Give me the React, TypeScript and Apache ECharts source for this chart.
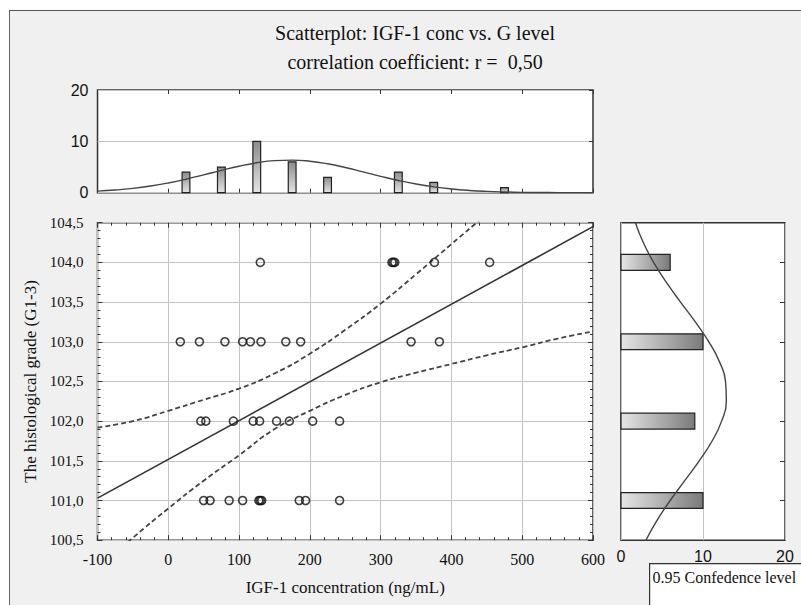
import React, { useEffect, useRef } from "react";
import * as echarts from "echarts";

// ---- data ----
// IGF-1 concentration (ng/mL) of each case, grouped by histological grade level
const gradeLevels = [101, 102, 103, 104];
const igfAtLevel101 = [50, 59, 86, 105, 128, 130, 132, 185, 194, 242];
const igfAtLevel102 = [46, 53, 92, 120, 129, 153, 171, 204, 242];
const igfAtLevel103 = [17, 44, 80, 105, 116, 131, 166, 187, 343, 383];
const igfAtLevel104 = [130, 316, 318, 320, 376, 454];

// top histogram (IGF-1 concentration, bins of 50)
const histCenters = [25, 75, 125, 175, 225, 325, 375, 475];
const histCounts = [4, 5, 10, 6, 3, 4, 2, 1];

// right histogram (grade)
const gradeCounts = [10, 9, 10, 6];

// fitted normal curve over the top histogram
const topCurveX = [-100, -75, -50, -25, 0, 25, 50, 75, 100, 125, 150, 175, 200, 225, 250, 275, 300, 325, 350, 375, 400, 425, 450, 475, 500, 525, 550, 575, 600];
const topCurveY = [0.31, 0.52, 0.84, 1.3, 1.9, 2.63, 3.47, 4.34, 5.16, 5.82, 6.24, 6.35, 6.13, 5.63, 4.91, 4.06, 3.19, 2.38, 1.69, 1.14, 0.73, 0.44, 0.25, 0.14, 0.07, 0.04, 0.02, 0.01, 0.0];

// fitted normal curve over the right histogram
const rightCurveGrade = [100.5, 100.75, 101.0, 101.25, 101.5, 101.75, 102.0, 102.25, 102.5, 102.75, 103.0, 103.25, 103.5, 103.75, 104.0, 104.25, 104.5];
const rightCurveCount = [3.04, 4.39, 6.0, 7.77, 9.54, 11.11, 12.27, 12.85, 12.75, 12.0, 10.71, 9.06, 7.26, 5.52, 3.98, 2.72, 1.76];

// regression line and 0.95 confidence band
const fitX = [-100, 600];
const fitY = [101.03, 104.45];
const bandX = [-100, -50, 0, 50, 100, 150, 200, 250, 300, 350, 400, 450, 500, 550, 600];
const bandUpper = [101.92, 102.0, 102.13, 102.27, 102.41, 102.6, 102.85, 103.15, 103.48, 103.85, 104.23, 104.61, 104.99, 105.38, 105.76];
const bandLower = [100.14, 100.53, 100.9, 101.25, 101.57, 101.9, 102.13, 102.33, 102.49, 102.61, 102.72, 102.83, 102.93, 103.04, 103.13];

const titleLines = ["Scatterplot: IGF-1 conc vs. G level", "correlation coefficient: r =  0,50"];
const xAxisTitle = "IGF-1 concentration (ng/mL)";
const yAxisTitle = "The histological grade (G1-3)";
const legendText = "0.95 Confedence level";

const SERIF = "Liberation Serif";
const SANS = "Liberation Sans";
const FRAME = "#333";
const GRIDLINE = "#c4c4c4";

export default function App() {
  const ref = useRef<HTMLDivElement>(null);

  useEffect(() => {
    if (!ref.current) return;
    const chart = echarts.init(ref.current, undefined, { renderer: "svg" });

    const igfRows = [igfAtLevel101, igfAtLevel102, igfAtLevel103, igfAtLevel104];
    const points: number[][] = [];
    igfRows.forEach((row, i) => row.forEach((x) => points.push([x, gradeLevels[i]])));

    const BAR_HALF_X = 5.5;
    const BAR_HALF_Y = 0.1;

    const noLine = { show: false, onZero: false };
    const hiddenAxisBase = {
      axisLabel: { show: false },
      splitLine: { show: false },
      axisLine: noLine,
    };

    const option: any = {
      animation: false,
      backgroundColor: "transparent",
      title: {
        text: titleLines.join("\n"),
        left: 410,
        top: 13,
        textAlign: "center",
        textStyle: { fontFamily: SERIF, fontSize: 20, fontWeight: "normal", color: "#111", lineHeight: 29 },
      },
      grid: [
        { left: 97.5, top: 90, width: 495.5, height: 102.7, show: true, z: -1, backgroundColor: "#fff", borderColor: FRAME, borderWidth: 1.5 },
        { left: 97.5, top: 222.7, width: 495.5, height: 317.5, show: true, z: -1, backgroundColor: "#fff", borderColor: FRAME, borderWidth: 1.5 },
        { left: 621, top: 222.7, width: 164, height: 317.5, show: true, z: -1, backgroundColor: "#fff", borderColor: FRAME, borderWidth: 1.5 },
      ],
      xAxis: [
        // 0: top histogram bottom
        { gridIndex: 0, type: "value", min: -100, max: 600, interval: 100, position: "bottom", ...hiddenAxisBase,
          axisTick: { show: true, inside: true, length: 4, lineStyle: { color: FRAME } } },
        // 1: top histogram top
        { gridIndex: 0, type: "value", min: -100, max: 600, interval: 100, position: "top", ...hiddenAxisBase,
          axisTick: { show: true, inside: true, length: 4, lineStyle: { color: FRAME } } },
        // 2: main bottom
        { gridIndex: 1, type: "value", min: -100, max: 600, interval: 100, position: "bottom",
          name: xAxisTitle, nameLocation: "middle", nameGap: 39,
          nameTextStyle: { fontFamily: SERIF, fontSize: 17, color: "#111" },
          axisLine: noLine,
          axisLabel: { fontFamily: SERIF, fontSize: 16, color: "#111", margin: 11 },
          axisTick: { show: true, inside: true, length: 5, lineStyle: { color: FRAME } },
          minorTick: { show: true, splitNumber: 5, length: 3, lineStyle: { color: FRAME } },
          splitLine: { show: true, lineStyle: { color: GRIDLINE, width: 1 } } },
        // 3: main top
        { gridIndex: 1, type: "value", min: -100, max: 600, interval: 100, position: "top", ...hiddenAxisBase,
          axisTick: { show: true, inside: true, length: 5, lineStyle: { color: FRAME } },
          minorTick: { show: true, splitNumber: 5, length: 3, lineStyle: { color: FRAME } } },
        // 4: right histogram bottom
        { gridIndex: 2, type: "value", min: 0, max: 20, interval: 10, position: "bottom",
          axisLine: noLine,
          axisLabel: { fontFamily: SANS, fontSize: 16, color: "#111", margin: 8 },
          axisTick: { show: false },
          splitLine: { show: true, lineStyle: { color: GRIDLINE, width: 1 } } },
      ],
      yAxis: [
        // 0: top histogram left
        { gridIndex: 0, type: "value", min: 0, max: 20, interval: 10, position: "left",
          axisLine: noLine,
          axisLabel: { fontFamily: SANS, fontSize: 16, color: "#111", margin: 9 },
          axisTick: { show: false },
          splitLine: { show: true, lineStyle: { color: GRIDLINE, width: 1 } } },
        // 1: top histogram right
        { gridIndex: 0, type: "value", min: 0, max: 20, interval: 10, position: "right", ...hiddenAxisBase,
          axisTick: { show: true, inside: true, length: 4, lineStyle: { color: FRAME } } },
        // 2: main left
        { gridIndex: 1, type: "value", min: 100.5, max: 104.5, interval: 0.5, position: "left",
          name: yAxisTitle, nameLocation: "middle", nameGap: 57, nameRotate: 90,
          nameTextStyle: { fontFamily: SERIF, fontSize: 17, color: "#111" },
          axisLine: noLine,
          axisLabel: { fontFamily: SERIF, fontSize: 15, color: "#111", margin: 14,
            formatter: (v: number) => v.toFixed(1).replace(".", ",") },
          axisTick: { show: true, inside: true, length: 5, lineStyle: { color: FRAME } },
          minorTick: { show: true, splitNumber: 5, length: 3, lineStyle: { color: FRAME } },
          splitLine: { show: true, lineStyle: { color: GRIDLINE, width: 1 } } },
        // 3: main right
        { gridIndex: 1, type: "value", min: 100.5, max: 104.5, interval: 0.5, position: "right", ...hiddenAxisBase,
          axisTick: { show: true, inside: true, length: 5, lineStyle: { color: FRAME } },
          minorTick: { show: true, splitNumber: 5, length: 3, lineStyle: { color: FRAME } } },
        // 4: right histogram left
        { gridIndex: 2, type: "value", min: 100.5, max: 104.5, interval: 0.5, position: "left", ...hiddenAxisBase,
          axisTick: { show: false } },
        // 5: right histogram right
        { gridIndex: 2, type: "value", min: 100.5, max: 104.5, interval: 0.5, position: "right", ...hiddenAxisBase,
          axisTick: { show: true, inside: true, length: 5, lineStyle: { color: FRAME } } },
      ],
      series: [
        {
          type: "custom",
          xAxisIndex: 0,
          yAxisIndex: 0,
          data: histCenters.map((c, i) => [c, histCounts[i]]),
          encode: { x: 0, y: 1 },
          renderItem: (params: any, api: any) => {
            const c = api.value(0);
            const v = api.value(1);
            const a = api.coord([c - BAR_HALF_X, v]);
            const b = api.coord([c + BAR_HALF_X, 0]);
            return {
              type: "rect",
              shape: { x: a[0], y: a[1], width: b[0] - a[0], height: b[1] - a[1] },
              style: {
                fill: new echarts.graphic.LinearGradient(0, 0, 0, 1, [
                  { offset: 0, color: "#8c8c8c" },
                  { offset: 1, color: "#e4e4e4" },
                ]),
                stroke: "#222",
                lineWidth: 1.2,
              },
            };
          },
          z: 3,
        },
        {
          type: "line",
          xAxisIndex: 0,
          yAxisIndex: 0,
          data: topCurveX.map((x, i) => [x, topCurveY[i]]),
          smooth: true,
          showSymbol: false,
          lineStyle: { color: "#444", width: 1.4 },
          z: 4,
        },
        {
          type: "line",
          xAxisIndex: 2,
          yAxisIndex: 2,
          data: bandX.map((x, i) => [x, bandUpper[i]]),
          smooth: true,
          showSymbol: false,
          clip: true,
          lineStyle: { color: "#444", width: 1.8, type: [5, 3] },
        },
        {
          type: "line",
          xAxisIndex: 2,
          yAxisIndex: 2,
          data: bandX.map((x, i) => [x, bandLower[i]]),
          smooth: true,
          showSymbol: false,
          clip: true,
          lineStyle: { color: "#444", width: 1.8, type: [5, 3] },
        },
        {
          type: "line",
          xAxisIndex: 2,
          yAxisIndex: 2,
          data: fitX.map((x, i) => [x, fitY[i]]),
          showSymbol: false,
          clip: true,
          lineStyle: { color: "#333", width: 1.6 },
        },
        {
          type: "scatter",
          xAxisIndex: 2,
          yAxisIndex: 2,
          data: points,
          symbol: "circle",
          symbolSize: 8,
          itemStyle: { color: "rgba(0,0,0,0)", borderColor: "#111", borderWidth: 1.6 },
          z: 5,
        },
        {
          type: "custom",
          xAxisIndex: 4,
          yAxisIndex: 4,
          data: gradeLevels.map((g, i) => [gradeCounts[i], g]),
          encode: { x: 0, y: 1 },
          renderItem: (params: any, api: any) => {
            const v = api.value(0);
            const g = api.value(1);
            const a = api.coord([0, g + BAR_HALF_Y]);
            const b = api.coord([v, g - BAR_HALF_Y]);
            return {
              type: "rect",
              shape: { x: a[0], y: a[1], width: b[0] - a[0], height: b[1] - a[1] },
              style: {
                fill: new echarts.graphic.LinearGradient(0, 0, 1, 0, [
                  { offset: 0, color: "#e6e6e6" },
                  { offset: 1, color: "#7a7a7a" },
                ]),
                stroke: "#222",
                lineWidth: 1.2,
              },
            };
          },
          z: 3,
        },
        {
          type: "line",
          xAxisIndex: 4,
          yAxisIndex: 4,
          data: rightCurveGrade.map((g, i) => [rightCurveCount[i], g]),
          smooth: true,
          showSymbol: false,
          lineStyle: { color: "#444", width: 1.4 },
          z: 4,
        },
      ],
      graphic: [
        {
          type: "group",
          left: 649,
          top: 563,
          children: [
            { type: "rect", shape: { x: 0, y: 0, width: 170, height: 60 }, style: { fill: "#fff", stroke: "#333", lineWidth: 1.2 } },
            { type: "text", x: 3, y: 14, style: { text: legendText, fontFamily: SERIF, fontSize: 16, fill: "#111", verticalAlign: "middle" } },
          ],
        },
      ],
    };

    chart.setOption(option);
    return () => chart.dispose();
  }, []);

  return (
    <div style={{ position: "fixed", left: 0, top: 0, width: 801, height: 605, background: "#fff", overflow: "hidden" }}>
      <div
        style={{
          position: "absolute",
          left: 8.5,
          top: 9.5,
          right: 0,
          bottom: 0,
          background: "#f0f0f0",
          borderLeft: "1.5px solid #666",
          borderTop: "1.5px solid #555",
        }}
      />
      <div ref={ref} style={{ position: "absolute", left: 0, top: 0, width: 801, height: 605 }} />
    </div>
  );
}
